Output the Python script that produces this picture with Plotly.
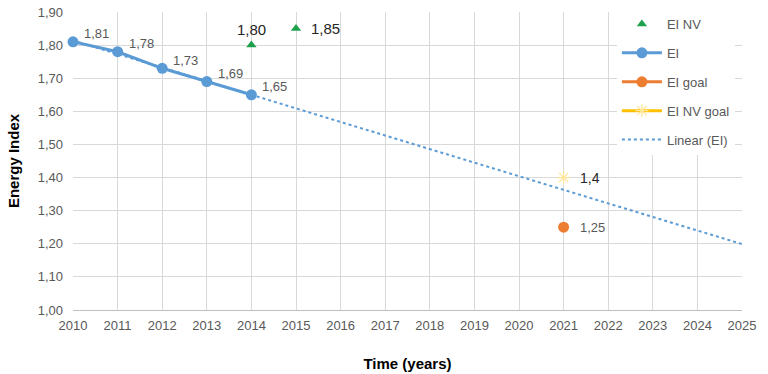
import numpy as np
import plotly.graph_objects as go

years_ei = [2010, 2011, 2012, 2013, 2014]
ei = [1.81, 1.78, 1.73, 1.69, 1.65]
years_nv = [2014, 2015]
ei_nv = [1.80, 1.85]
goal_year = [2021]
ei_goal = [1.25]
ei_nv_goal = [1.40]
trend_years = [2010, 2025]

def fmt(v, d=2):
    return f"{v:.{d}f}".replace(".", ",")

coef = np.polyfit(years_ei, ei, 1)
trend_vals = [float(np.polyval(coef, x)) for x in trend_years]

FONT = "Liberation Sans, Arial, sans-serif"
GRAY = "#595959"
DARK = "#262626"

fig = go.Figure()
fig.add_trace(go.Scatter(
    x=years_nv, y=ei_nv, name="EI NV", mode="markers",
    marker=dict(symbol="triangle-up", size=9, color="#1FA04C"),
    legendgroup="a"))
fig.add_trace(go.Scatter(
    x=years_ei, y=ei, name="EI", mode="lines+markers",
    line=dict(color="#5B9BD5", width=3),
    marker=dict(symbol="circle", size=11, color="#5B9BD5"),
    legendgroup="b", cliponaxis=False))
fig.add_trace(go.Scatter(
    x=goal_year, y=ei_goal, name="EI goal", mode="lines+markers",
    line=dict(color="#ED7D31", width=3),
    marker=dict(symbol="circle", size=11, color="#ED7D31"),
    legendgroup="c"))
fig.add_trace(go.Scatter(
    x=goal_year, y=ei_nv_goal, name="EI NV goal", mode="lines+markers",
    line=dict(color="#FFC000", width=3),
    marker=dict(symbol="asterisk-open", size=11, color="#FFE699",
                line=dict(color="#FFD966", width=1.2)),
    legendgroup="d"))
fig.add_trace(go.Scatter(
    x=trend_years, y=trend_vals, name="Linear (EI)", mode="lines",
    line=dict(color="#5B9BD5", width=2, dash="dot"),
    legendgroup="e"))

# data labels
for x, v in zip(years_ei, ei):
    fig.add_annotation(x=x, y=v, text=fmt(v), showarrow=False, xanchor="left",
                       xshift=9, yshift=8, font=dict(size=13, color=GRAY, family=FONT))
fig.add_annotation(x=years_nv[0], y=ei_nv[0], text=fmt(ei_nv[0]), showarrow=False,
                   xanchor="center", yshift=16, font=dict(size=15, color=DARK, family=FONT))
fig.add_annotation(x=years_nv[1], y=ei_nv[1], text=fmt(ei_nv[1]), showarrow=False,
                   xanchor="left", xshift=13, font=dict(size=15, color=DARK, family=FONT))
fig.add_annotation(x=goal_year[0], y=ei_nv_goal[0],
                   text=f"{ei_nv_goal[0]:g}".replace(".", ","), showarrow=False,
                   xanchor="left", xshift=14, font=dict(size=14, color=DARK, family=FONT))
fig.add_annotation(x=goal_year[0], y=ei_goal[0], text=fmt(ei_goal[0]), showarrow=False,
                   xanchor="left", xshift=14, font=dict(size=13, color=GRAY, family=FONT))

fig.update_layout(
    width=768, height=374,
    margin=dict(l=73, r=26, t=12, b=64, autoexpand=False),
    paper_bgcolor="white", plot_bgcolor="white",
    separators=", ",
    hovermode=False,
    font=dict(family=FONT, color=GRAY, size=13),
    legend=dict(x=0.813, y=1.01, xanchor="left", yanchor="top",
                bgcolor="white", traceorder="grouped", tracegroupgap=9,
                itemwidth=40,
                font=dict(size=13, color=GRAY, family=FONT)),
    xaxis=dict(range=[2010, 2025], dtick=1, tick0=2010, showgrid=True,
               gridcolor="#D9D9D9", zeroline=False, showline=True,
               linecolor="#BFBFBF", ticks="", ticklabelstandoff=3,
               ticklabeloverflow="allow",
               automargin=False, tickfont=dict(size=13, color=GRAY),
               title=dict(text="<b>Time (years)</b>", standoff=26,
                          font=dict(size=15, color="black", family=FONT))),
    yaxis=dict(range=[1.0, 1.9], dtick=0.1, tick0=1.0, tickformat=".2f",
               showgrid=True, gridcolor="#D9D9D9", zeroline=False,
               showline=False, ticks="", ticklabelstandoff=9,
               ticklabeloverflow="allow",
               automargin=False, tickfont=dict(size=13, color=GRAY),
               title=dict(text="<b>Energy Index</b>", standoff=14,
                          font=dict(size=15, color="black", family=FONT))),
)

fig.write_html("out.html", config={"displayModeBar": False},
               post_script="document.body.style.margin='0';document.body.style.overflow='hidden';")
